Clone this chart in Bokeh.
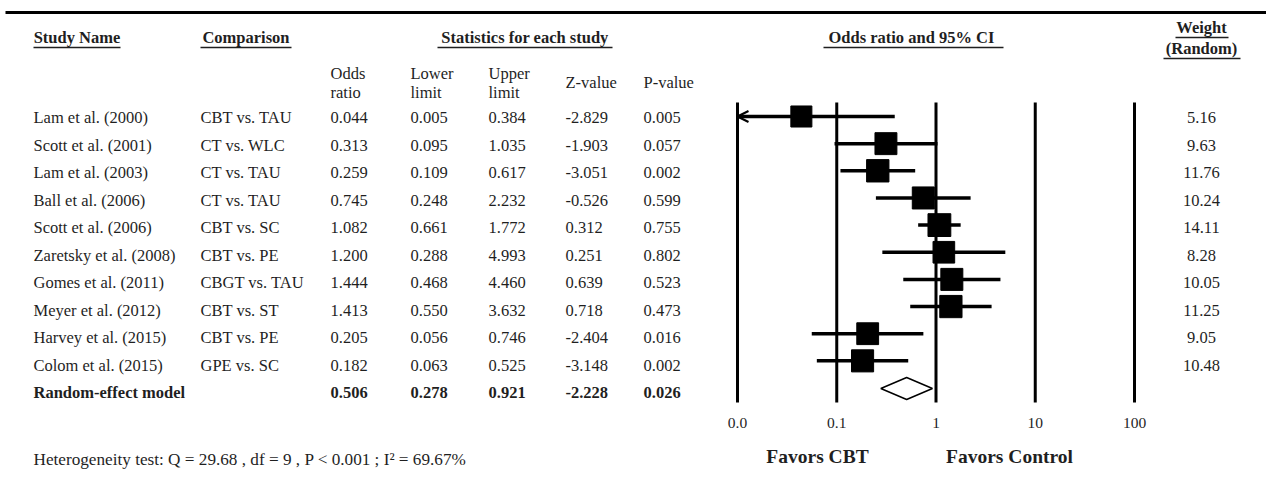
from bokeh.plotting import figure
from bokeh.models import Range1d, LogScale, ColumnDataSource, Arrow, OpenHead
from bokeh.embed import file_html
from bokeh.resources import INLINE
from bokeh.core.properties import value

# ---------------- data ----------------
studies = ["Lam et al. (2000)", "Scott et al. (2001)", "Lam et al. (2003)", "Ball et al. (2006)",
           "Scott et al. (2006)", "Zaretsky et al. (2008)", "Gomes et al. (2011)", "Meyer et al. (2012)",
           "Harvey et al. (2015)", "Colom et al. (2015)"]
comparisons = ["CBT vs. TAU", "CT vs. WLC", "CT vs. TAU", "CT vs. TAU", "CBT vs. SC", "CBT vs. PE",
               "CBGT vs. TAU", "CBT vs. ST", "CBT vs. PE", "GPE vs. SC"]
odds = [0.044, 0.313, 0.259, 0.745, 1.082, 1.200, 1.444, 1.413, 0.205, 0.182]
lower = [0.005, 0.095, 0.109, 0.248, 0.661, 0.288, 0.468, 0.550, 0.056, 0.063]
upper = [0.384, 1.035, 0.617, 2.232, 1.772, 4.993, 4.460, 3.632, 0.746, 0.525]
zvals = [-2.829, -1.903, -3.051, -0.526, 0.312, 0.251, 0.639, 0.718, -2.404, -3.148]
pvals = [0.005, 0.057, 0.002, 0.599, 0.755, 0.802, 0.523, 0.473, 0.016, 0.002]
weights = [5.16, 9.63, 11.76, 10.24, 14.11, 8.28, 10.05, 11.25, 9.05, 10.48]
pooled_label = "Random-effect model"
pooled_or, pooled_lo, pooled_hi, pooled_z, pooled_p = 0.506, 0.278, 0.921, -2.228, 0.026
tick_values = [0.01, 0.1, 1, 10, 100]
tick_labels = ["0.0", "0.1", "1", "10", "100"]
heterogeneity = "Heterogeneity test: Q = 29.68 , df = 9 , P < 0.001 ; I\u00b2 = 69.67%"
favors_left = "Favors CBT"
favors_right = "Favors Control"

# ---------------- layout ----------------
W, H = 1266, 473
FONT = value("Liberation Serif")
COLOR = "#1f1f1f"
FS = "16.5px"

p = figure(width=W, height=H, x_range=Range1d(0, W), y_range=Range1d(H, 0),
           output_backend="svg", toolbar_location=None, min_border=0)
p.axis.visible = False
p.grid.visible = False
p.outline_line_color = None
p.background_fill_color = "white"

# log-scaled range for the forest part
x0_px, x100_px = 737.0, 1134.0
ppd = (x100_px - x0_px) / 4.0
lo_r = 10 ** (-2 - x0_px / ppd)
hi_r = 10 ** (2 + (W - x100_px) / ppd)
p.extra_x_ranges = {"or": Range1d(lo_r, hi_r)}
p.extra_x_scales = {"or": LogScale()}

n = len(studies)
row_y = [117 + 27.5 * i for i in range(n)]
pool_y = 392
mark_y = [116 + 27.15 * i for i in range(n)]
diamond_y = 388


def txt(x, y, t, size=FS, align="left", bold=False, baseline="middle"):
    p.text(x=x, y=y, text=t, text_font=FONT, text_font_size=size, text_align=align,
           text_baseline=baseline, text_color=COLOR,
           text_font_style="bold" if bold else "normal")


# top rule
p.segment(x0=[5], x1=[1280], y0=[12], y1=[12], line_width=3, line_color="black")

# headers (bold, underlined)
HS = "16.5px"
headers = [("Study Name", 33, 120), ("Comparison", 200, 291),
           ("Statistics for each study", 437, 612), ("Odds  ratio and 95% CI", 823, 1003)]
for t, a, b in headers:
    txt([(a + b) / 2], [37], [t], bold=True, align="center", size=HS)
    p.segment(x0=[a], x1=[b], y0=[47], y1=[47], line_width=1.3, line_color=COLOR)
txt([1201], [27], ["Weight"], bold=True, align="center", size=HS)
p.segment(x0=[1175], x1=[1228], y0=[37], y1=[37], line_width=1.3, line_color=COLOR)
txt([1201], [48], ["(Random)"], bold=True, align="center", size=HS)
p.segment(x0=[1163], x1=[1240], y0=[58], y1=[58], line_width=1.3, line_color=COLOR)

# sub headers
col_x = [330, 410, 488, 565, 643]
txt([330, 410, 488], [73, 73, 73], ["Odds", "Lower", "Upper"])
txt([330, 410, 488], [92, 92, 92], ["ratio", "limit", "limit"])
txt([565, 643], [82, 82], ["Z-value", "P-value"])

# study rows
txt([33] * n, row_y, studies)
txt([200] * n, row_y, comparisons)
for cx, vals in zip(col_x, [odds, lower, upper, zvals, pvals]):
    txt([cx] * n, row_y, [f"{v:.3f}" for v in vals])
txt([1201] * n, row_y, [f"{w:.2f}" for w in weights], align="center")

# pooled row
txt([33], [pool_y], [pooled_label], bold=True)
for cx, v in zip(col_x, [pooled_or, pooled_lo, pooled_hi, pooled_z, pooled_p]):
    txt([cx], [pool_y], [f"{v:.3f}"], bold=True)

# heterogeneity
txt([33], [459], [heterogeneity], size="17.2px")

# ---------------- forest plot ----------------
# reference verticals
p.segment(x0=tick_values, x1=tick_values, y0=[102] * 5, y1=[402] * 5, line_width=3,
          line_color="black", x_range_name="or")
# tick labels
p.text(x=tick_values, y=[422] * 5, text=tick_labels, text_font=FONT, text_font_size="15.5px",
       text_align="center", text_baseline="middle", text_color=COLOR, x_range_name="or")

# CIs (clip at the axis minimum, arrow for clipped)
xmin = tick_values[0]
ci_lo = [max(l, xmin) for l in lower]
src = ColumnDataSource(dict(lo=ci_lo, hi=upper, y=mark_y, o=odds,
                            s=[20 + 0.2 * w for w in weights]))
p.segment(x0="lo", x1="hi", y0="y", y1="y", source=src, line_width=3.5, line_color="black",
          x_range_name="or")
for l, u, y in zip(lower, upper, mark_y):
    if l < xmin:
        p.add_layout(Arrow(x_start=u, x_end=xmin, y_start=y, y_end=y, line_width=0, line_alpha=0,
                           end=OpenHead(size=11, line_width=2.2, line_color="black"),
                           x_range_name="or"))
p.scatter(x="o", y="y", size="s", marker="square", source=src, fill_color="black",
          line_color="black", x_range_name="or")

# pooled diamond
p.patch(x=[pooled_lo, pooled_or, pooled_hi, pooled_or],
        y=[diamond_y, diamond_y - 11, diamond_y, diamond_y + 11],
        fill_color="white", line_color="black", line_width=1.5, x_range_name="or")

# favors labels
txt([817], [456], [favors_left], size="19.5px", align="center", bold=True)
txt([1009], [456], [favors_right], size="19.5px", align="center", bold=True)

open("out.html", "w").write(file_html(p, INLINE))
